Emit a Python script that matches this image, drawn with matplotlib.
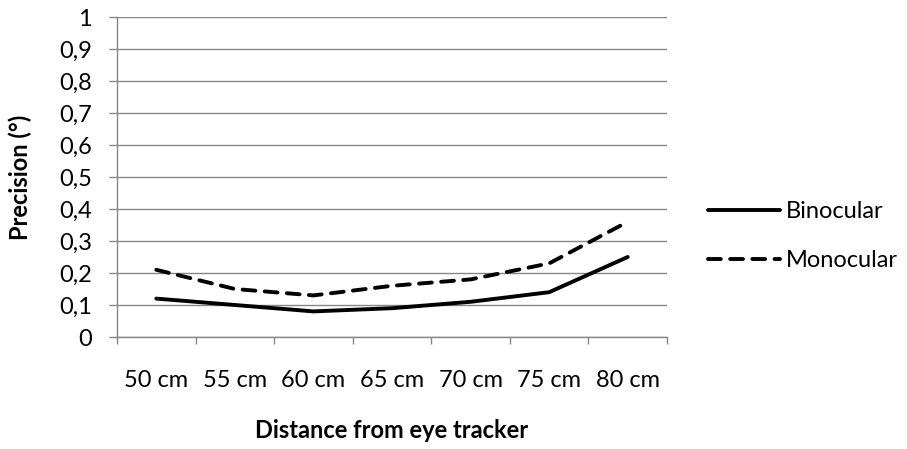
import matplotlib
matplotlib.use("Agg")
import matplotlib.pyplot as plt

categories = ["50 cm", "55 cm", "60 cm", "65 cm", "70 cm", "75 cm", "80 cm"]
binocular = [0.12, 0.10, 0.08, 0.09, 0.11, 0.14, 0.25]
monocular = [0.21, 0.15, 0.13, 0.16, 0.18, 0.23, 0.36]
yticks = [0, 0.1, 0.2, 0.3, 0.4, 0.5, 0.6, 0.7, 0.8, 0.9, 1]
ytick_labels = ["0", "0,1", "0,2", "0,3", "0,4", "0,5", "0,6", "0,7", "0,8", "0,9", "1"]

plt.rcParams['font.family'] = ['Lato', 'DejaVu Sans']
grey = "#868686"
fs = 17

fig = plt.figure(figsize=(9.07, 4.49), dpi=100)
ax = fig.add_axes([117/907, 1-337/449, 550/907, 320/449])

x = list(range(len(categories)))
ax.plot(x, binocular, color="black", lw=2.8, solid_capstyle="round",
        solid_joinstyle="round", label="Binocular", zorder=3)
ax.plot(x, monocular, color="black", lw=2.8, dashes=(3.3, 2.4),
        dash_capstyle="round", dash_joinstyle="round", label="Monocular", zorder=3)

ax.set_xlim(-0.5, len(categories) - 0.5)
ax.set_ylim(0, 1)
ax.set_yticks(yticks)
ax.set_yticklabels(ytick_labels, fontsize=fs)
ax.set_xticks(x)
ax.set_xticklabels(categories, fontsize=fs)
ax.set_xticks([i - 0.5 for i in range(len(categories) + 1)], minor=True)
ax.tick_params(axis="x", which="major", length=0, pad=24)
ax.tick_params(axis="x", which="minor", length=5, color=grey, width=1, direction="out")
ax.tick_params(axis="y", length=6, color=grey, width=1, direction="out", pad=12)
ax.yaxis.grid(True, color=grey, lw=1)
ax.set_axisbelow(True)
for s in ["top", "right"]:
    ax.spines[s].set_visible(False)
for s in ["left", "bottom"]:
    ax.spines[s].set_color(grey)
    ax.spines[s].set_linewidth(1)

ax.set_xlabel("Distance from eye tracker", fontsize=fs, fontweight="bold")
ax.xaxis.set_label_coords(0.5, (337 - 419) / 320)
ax.set_ylabel("Precision (°)", fontsize=fs, fontweight="bold")
ax.yaxis.set_label_coords((32 - 117) / 550, 0.5)

leg = ax.legend(loc="upper left", bbox_to_anchor=(708/907, 1-201/449),
                bbox_transform=fig.transFigure, frameon=False, fontsize=fs,
                handlelength=3.05, handletextpad=0.25, labelspacing=1.19,
                borderaxespad=0, borderpad=0)

fig.savefig("out.png", dpi=100)
